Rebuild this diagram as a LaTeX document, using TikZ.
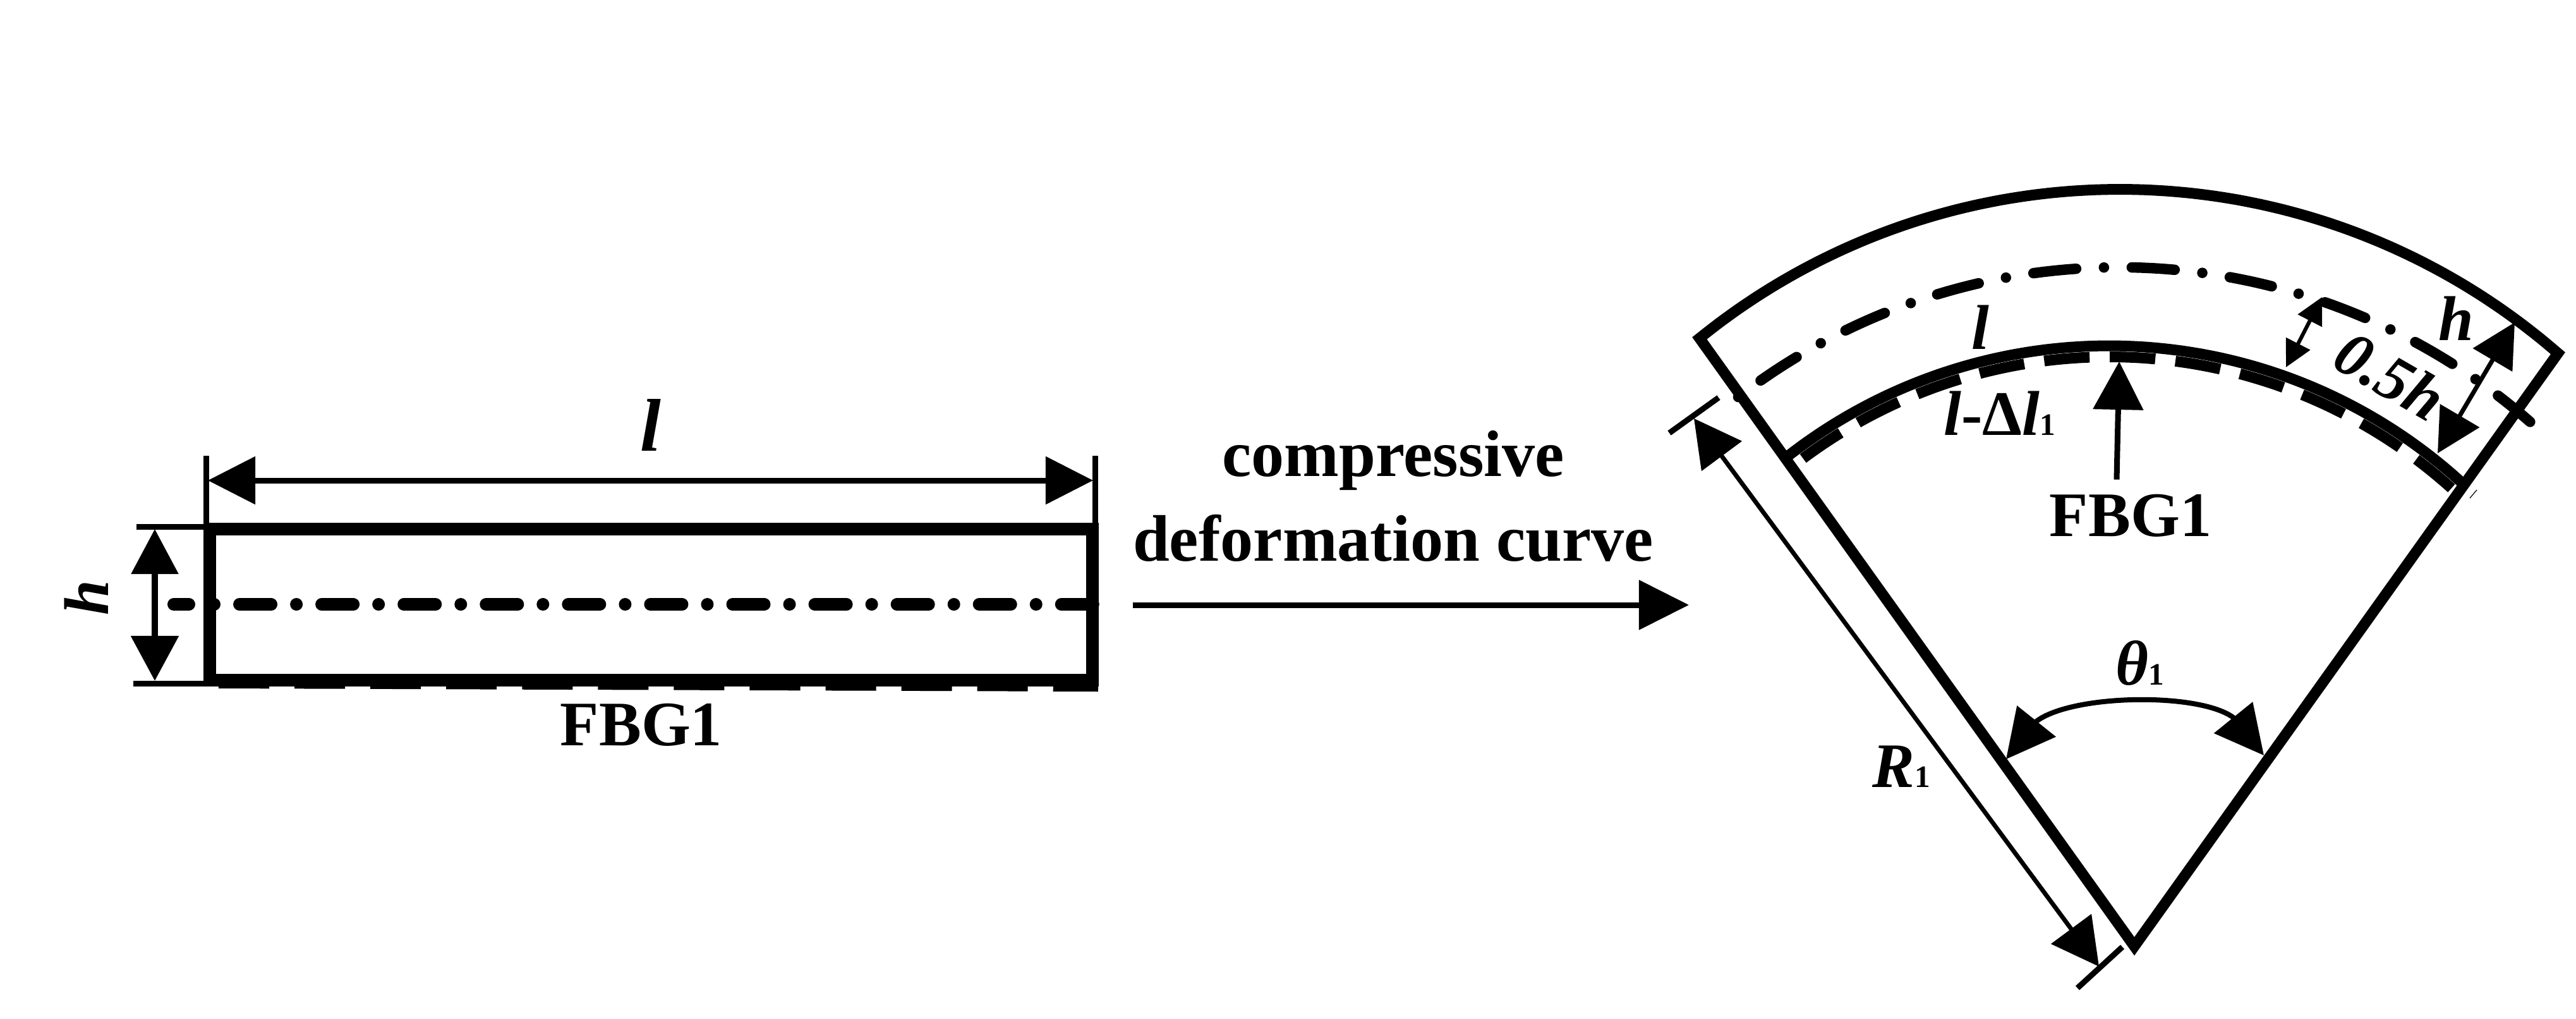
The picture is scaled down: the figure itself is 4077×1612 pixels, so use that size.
\documentclass[tikz,border=0pt]{standalone}
\usepackage{fontspec}
\setmainfont{Liberation Serif}
\usetikzlibrary{arrows.meta}
\newcommand{\fsz}[1]{\fontsize{#1}{#1}\selectfont}
\newcommand{\subone}{{\fsz{14pt}\bfseries\upshape 1}}
\tikzset{
  wall/.style={line width=0.17cm,line join=miter,miter limit=10},
  recwall/.style={line width=0.2cm,line join=miter,miter limit=10},
  centreline/.style={line width=0.2cm,line cap=round,dash pattern=on 0.5cm off 0.4cm on 0cm off 0.4cm,dash phase=0.26cm},
  arccentre/.style={line width=0.165cm,line cap=round,dash pattern=on 0cm off 0.44cm on 0.68cm off 0.44cm},
  grating/.style={line width=0.14cm,dash pattern=on 0.8cm off 0.4cm},
  arcgrating/.style={line width=0.17cm,dash pattern=on 0.72cm off 0.32cm},
  extline/.style={line width=0.09cm},
  dimbig/.style={line width=0.09cm,{Triangle[length=0.75cm,width=0.74cm]}-{Triangle[length=0.75cm,width=0.74cm]}},
  dimr/.style={line width=0.07cm,{Triangle[length=0.74cm,width=0.78cm]}-{Triangle[length=0.74cm,width=0.78cm]}},
  dimh/.style={line width=0.07cm,{Triangle[length=0.69cm,width=0.71cm]}-{Triangle[length=0.69cm,width=0.71cm]}},
  dimhalf/.style={line width=0.06cm,{Triangle[length=0.42cm,width=0.42cm]}-{Triangle[length=0.42cm,width=0.42cm]}},
  dimtheta/.style={line width=0.08cm,{Triangle[length=0.77cm,width=0.77cm]}-{Triangle[length=0.77cm,width=0.77cm]}},
  pointer/.style={line width=0.09cm,-{Triangle[length=0.76cm,width=0.78cm]}},
  label/.style={inner sep=0pt,anchor=base},
  bfl/.style={label,font=\fsz{29.6pt}\bfseries},
  itl/.style={label,font=\fsz{28.5pt}\bfseries\itshape},
}
\begin{document}
\begin{tikzpicture}[x=0.01cm,y=-0.01cm]
\useasboundingbox (0,0) rectangle (4077,1612);
% ---------- straight beam
\coordinate (ctrA) at (275,956);
\coordinate (ctrB) at (1768.5,956);
\draw[centreline] (ctrA) -- (ctrB);
\draw[recwall] (332,837) -- (1728.5,837) -- (1728.5,1076) -- (332,1076) -- cycle;
\coordinate (gA) at (346,1082);
\coordinate (gB) at (1738,1087);
\draw[grating] (gA) -- (gB);
% extension lines
\coordinate (eLt) at (326.5,721);
\coordinate (eLb) at (326.5,830);
\coordinate (eRt) at (1733.5,721);
\coordinate (eRb) at (1733.5,840);
\draw[extline] (eLt) -- (eLb);
\draw[extline] (eRt) -- (eRb);
\coordinate (eTl) at (216,833.5);
\coordinate (eTr) at (322,833.5);
\coordinate (eBl) at (211,1081.5);
\coordinate (eBr) at (322,1081.5);
\draw[extline] (eTl) -- (eTr);
\draw[extline] (eBl) -- (eBr);
% dimensions
\coordinate (dlA) at (329,760);
\coordinate (dlB) at (1730,760);
\draw[dimbig] (dlA) -- (dlB);
\coordinate (dhA) at (245,837);
\coordinate (dhB) at (245,1077);
\draw[dimbig,{Triangle[length=0.71cm,width=0.73cm]}-{Triangle[length=0.71cm,width=0.74cm]}] (dhA) -- (dhB);
% main arrow
\coordinate (mA) at (1793,957);
\coordinate (mB) at (2673,957);
\draw[line width=0.09cm,-{Triangle[length=0.79cm,width=0.77cm]}] (mA) -- (mB);
% labels left
\node[label,font=\fsz{33.6pt}\bfseries\itshape] (tl) at (1030,713) {l};
\node[itl,rotate=90] (th) at (171,946) {h};
\node[bfl,font=\fsz{28.5pt}\bfseries] (tf) at (1015,1179) {FBG1};
\node[bfl] (tc) at (2205,753) {compressive};
\node[bfl] (td) at (2205,887) {deformation curve};
% ---------- bent beam
\coordinate (apex) at (3378,1497);
\draw[wall] plot[domain=-129:-49,samples=120,variable=\t] ({3355+1057*cos(\t)},{1356.5+1057*sin(\t)}) -- (apex) -- cycle;
\draw[arccentre] plot[domain=-127.6:-48.8,samples=150,variable=\t] ({3353.7+987.8*cos(\t)},{1410.6+987.8*sin(\t)});
\draw[wall] plot[domain=-127.9:-47.6,samples=120,variable=\t] ({3338+828*cos(\t)},{1375+828*sin(\t)});
\draw[arcgrating] plot[domain=-126.7:-47.8,samples=120,variable=\t] ({3338+810.5*cos(\t)},{1375+810.5*sin(\t)});
% R dimension
\coordinate (t1a) at (2642,685);
\coordinate (t1b) at (2720,629);
\draw[extline] (t1a) -- (t1b);
\coordinate (t2a) at (3288,1563);
\coordinate (t2b) at (3359,1498);
\draw[extline] (t2a) -- (t2b);
\coordinate (rA) at (2681,662);
\coordinate (rB) at (3322,1529);
\draw[dimr] (rA) -- (rB);
% theta dimension
\coordinate (thA) at (3175,1201);
\coordinate (thAb) at (3223,1141);
\coordinate (thB) at (3583,1195);
\coordinate (thBb) at (3534.5,1135);
\draw[dimtheta] (thA) -- (thAb) .. controls (3280,1098) and (3480,1095) .. (thBb) -- (thB);
% h dimension
\coordinate (hA) at (3980,510);
\coordinate (hB) at (3858,717);
\draw[dimh] (hA) -- (hB);
% 0.5h dimension
\coordinate (qA) at (3675,470);
\coordinate (qB) at (3618,581);
\draw[dimhalf] (qA) -- (qB);
% FBG pointer
\coordinate (pA) at (3350,758.6);
\coordinate (pB) at (3354,572);
\draw[pointer] (pA) -- (pB);
% stray mark of the original
\coordinate (sA) at (3909,788);
\coordinate (sB) at (3920,775);
\draw[line width=0.012cm] (sA) -- (sB);
% labels right
\node[itl] (tl2) at (3134,552) {l};
\node[itl] (tdl) at (3165,688) {l\textup{-}\textup{\bfseries Δ}l\subone};
\node[bfl,font=\fsz{28.5pt}\bfseries] (tf2) at (3372,848) {FBG1};
\node[itl] (tR) at (3009,1245) {R\subone};
\node[itl] (tt) at (3387,1083) {θ\subone};
\node[itl] (th2) at (3887,538) {h};
\node[itl,rotate=-30] (th3) at (3766,624) {0.5h};
\end{tikzpicture}
\end{document}
